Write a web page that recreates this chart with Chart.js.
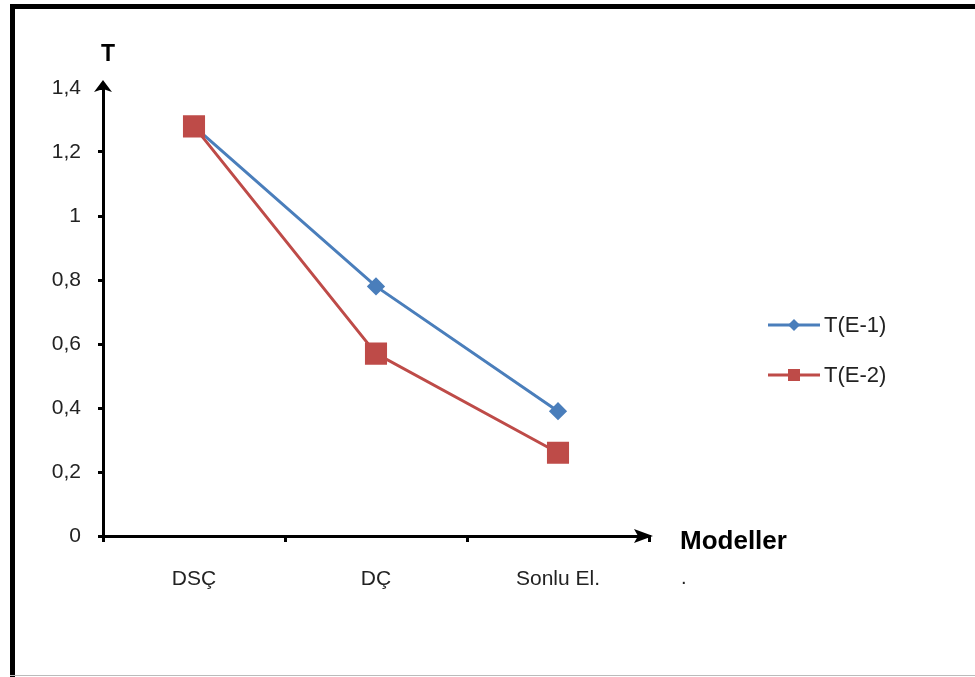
<!DOCTYPE html>
<html lang="tr">
<head>
  <meta charset="UTF-8">
  <title>T - Modeller</title>
  <script src="https://cdn.jsdelivr.net/npm/chart.js"></script>
  <style>
    html, body { margin: 0; padding: 0; background: #fff; }
    canvas { display: block; }
  </style>
</head>
<body>
  <canvas id="chart" width="975" height="677"></canvas>

  <script>
    // Données
    const categories = ['DSÇ', 'DÇ', 'Sonlu El.'];
    const seriesNames = ['T(E-1)', 'T(E-2)'];
    const te1 = [1.28, 0.78, 0.39];
    const te2 = [1.28, 0.57, 0.26];
    const yTickLabels = ['0', '0,2', '0,4', '0,6', '0,8', '1', '1,2', '1,4'];

    const blue = '#4a7ebb';
    const red = '#be4b48';
    const font = '"Liberation Sans", Arial, sans-serif';

    // Cadre, flèches des axes, titres d'axes et légende
    const decor = {
      id: 'decor',
      afterDraw(chart) {
        const ctx = chart.ctx;
        const a = chart.chartArea;
        ctx.save();

        // cadre noir (haut + gauche) et ligne grise en bas
        ctx.fillStyle = '#000';
        ctx.fillRect(10, 4, 965, 5);
        ctx.fillRect(10, 4, 5, 673);
        ctx.fillStyle = '#bbb';
        ctx.fillRect(10, 675, 965, 1);

        // flèche axe Y
        ctx.fillStyle = '#000';
        ctx.beginPath();
        ctx.moveTo(a.left, a.top - 8);
        ctx.lineTo(a.left + 9, a.top + 4);
        ctx.lineTo(a.left, a.top + 1);
        ctx.lineTo(a.left - 9, a.top + 4);
        ctx.closePath();
        ctx.fill();

        // flèche axe X
        ctx.beginPath();
        ctx.moveTo(a.right + 4, a.bottom);
        ctx.lineTo(a.right - 15, a.bottom - 7);
        ctx.lineTo(a.right - 11, a.bottom);
        ctx.lineTo(a.right - 15, a.bottom + 7);
        ctx.closePath();
        ctx.fill();

        // titres des axes
        ctx.fillStyle = '#000';
        ctx.textBaseline = 'middle';
        ctx.textAlign = 'center';
        ctx.font = 'bold 23px ' + font;
        ctx.fillText('T', a.left + 5, 55);
        ctx.textAlign = 'left';
        ctx.font = 'bold 26px ' + font;
        ctx.fillText('Modeller', 680, a.bottom + 6);
        ctx.font = '20px ' + font;
        ctx.fillStyle = '#222';
        ctx.fillText('.', 681, a.bottom + 42);

        // légende
        const ys = [325, 375];
        chart.data.datasets.forEach((ds, i) => {
          const y = ys[i];
          ctx.strokeStyle = ds.borderColor;
          ctx.lineWidth = 3;
          ctx.beginPath();
          ctx.moveTo(768, y);
          ctx.lineTo(820, y);
          ctx.stroke();
          ctx.fillStyle = ds.borderColor;
          if (ds.pointStyle === 'rect') {
            ctx.fillRect(788, y - 6, 12, 12);
          } else {
            ctx.beginPath();
            ctx.moveTo(794, y - 6);
            ctx.lineTo(800, y);
            ctx.lineTo(794, y + 6);
            ctx.lineTo(788, y);
            ctx.closePath();
            ctx.fill();
          }
          ctx.fillStyle = '#222';
          ctx.font = '22px ' + font;
          ctx.textAlign = 'left';
          ctx.fillText(ds.label, 824, y + 1);
        });
        ctx.restore();
      }
    };

    new Chart(document.getElementById('chart'), {
      type: 'line',
      data: {
        labels: categories,
        datasets: [{
          label: seriesNames[0],
          data: te1,
          borderColor: blue,
          backgroundColor: blue,
          borderWidth: 3,
          pointStyle: 'rectRot',
          pointRadius: 7,
          pointHoverRadius: 7,
          tension: 0,
          order: 2
        }, {
          label: seriesNames[1],
          data: te2,
          borderColor: red,
          backgroundColor: red,
          borderWidth: 3,
          pointStyle: 'rect',
          pointRadius: 13.5,
          pointHoverRadius: 13.5,
          tension: 0,
          order: 1
        }]
      },
      options: {
        responsive: false,
        animation: false,
        layout: { padding: { top: 88, right: 326, bottom: 81, left: 0 } },
        plugins: {
          legend: { display: false },
          tooltip: { enabled: false }
        },
        scales: {
          x: {
            type: 'category',
            offset: true,
            afterFit: s => { s.height = 60; },
            grid: { offset: true, drawOnChartArea: false, drawTicks: true, tickLength: 6, color: '#000', lineWidth: 3 },
            border: { color: '#000', width: 3 },
            ticks: { color: '#222', font: { family: font, size: 21 }, padding: 25, maxRotation: 0 }
          },
          y: {
            min: 0,
            max: 1.4,
            afterFit: s => { s.width = 103; },
            grid: { drawOnChartArea: false, drawTicks: true, tickLength: 5, color: '#000', lineWidth: 3 },
            border: { color: '#000', width: 3 },
            ticks: {
              stepSize: 0.2,
              color: '#222',
              font: { family: font, size: 21 },
              padding: 17,
              callback: (v, i) => yTickLabels[i]
            }
          }
        }
      },
      plugins: [decor]
    });
  </script>
</body>
</html>
